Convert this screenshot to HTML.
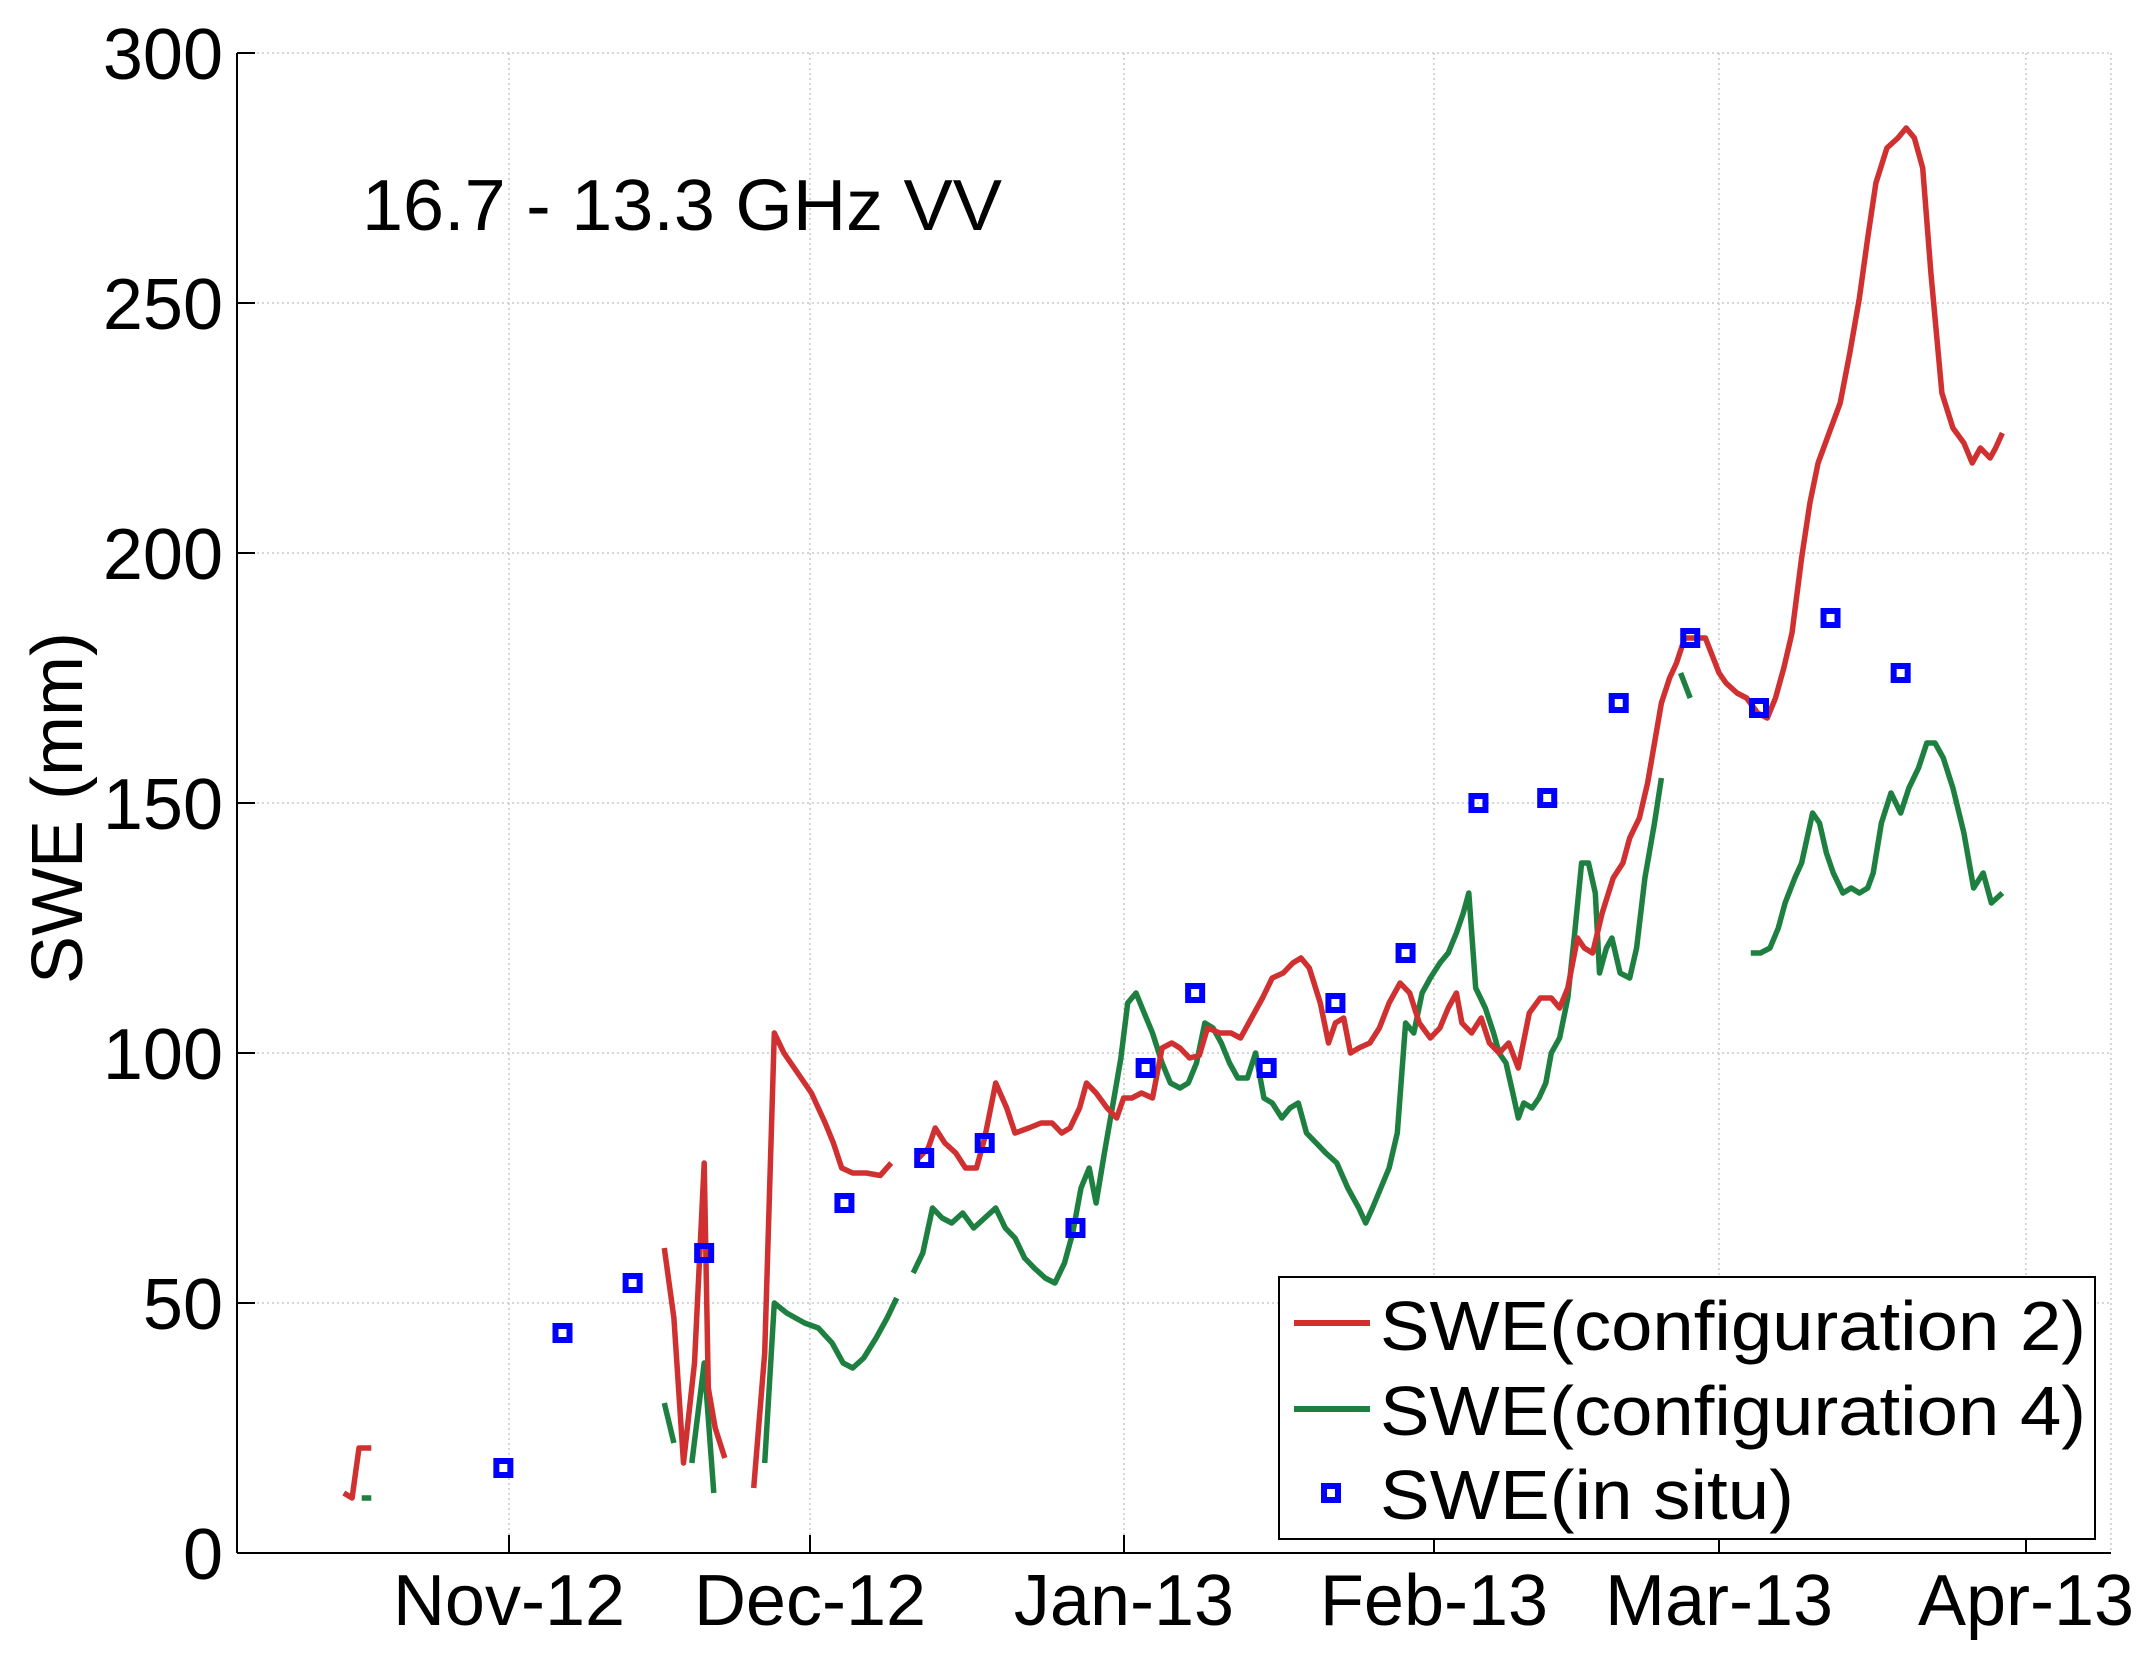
<!DOCTYPE html>
<html><head><meta charset="utf-8">
<style>
html,body{margin:0;padding:0;background:#fff;}
svg{display:block;}
text{font-family:"Liberation Sans",Arial,sans-serif;fill:#000;}
</style></head>
<body>
<svg id="c" xmlns="http://www.w3.org/2000/svg" width="2155" height="1655" viewBox="0 0 2155 1655">
<rect width="2155" height="1655" fill="#fff"/>
<g id="grid" stroke="#c8c8c8" stroke-width="1.5" stroke-dasharray="2,3"></g>
<g id="axes" stroke="#000" stroke-width="2"></g>
<g id="labels" font-size="72"></g>
<text x="362" y="230" font-size="72" textLength="640" lengthAdjust="spacingAndGlyphs">16.7 - 13.3 GHz VV</text>
<text transform="translate(82,808) rotate(-90)" font-size="72" text-anchor="middle">SWE (mm)</text>
<g id="series" fill="none" stroke-width="5.5" stroke-linejoin="round"></g>
<g id="pts" fill="none" stroke="#0000ff" stroke-width="6"></g>
<g id="legend">
<rect x="1279" y="1277" width="816" height="262" fill="#fff" stroke="#000" stroke-width="2"/>
<line x1="1294" y1="1323" x2="1370" y2="1323" stroke="#d03030" stroke-width="6"/>
<line x1="1294" y1="1409" x2="1370" y2="1409" stroke="#1e8040" stroke-width="6"/>
<rect x="1324" y="1486" width="14" height="14" fill="none" stroke="#0000ff" stroke-width="6"/>
<text x="1380" y="1350" font-size="70" textLength="706" lengthAdjust="spacingAndGlyphs">SWE(configuration 2)</text>
<text x="1380" y="1435" font-size="70" textLength="706" lengthAdjust="spacingAndGlyphs">SWE(configuration 4)</text>
<text x="1380" y="1519" font-size="70" textLength="414" lengthAdjust="spacingAndGlyphs">SWE(in situ)</text>
</g>
</svg>
<script>
var NS="http://www.w3.org/2000/svg";
function el(p,t,a,txt){var e=document.createElementNS(NS,t);for(var k in a)e.setAttribute(k,a[k]);if(txt!==undefined)e.textContent=txt;document.getElementById(p).appendChild(e);return e;}
var L=237,R=2111,B=1553,T=53;
function X(xd){return xd*1.3753;}
function Y(v){return B-5*v;}
var months=[[509,"Nov-12"],[810,"Dec-12"],[1124,"Jan-13"],[1434,"Feb-13"],[1719,"Mar-13"],[2026,"Apr-13"]];
for(var v=50;v<=300;v+=50){el("grid","line",{x1:L,y1:Y(v),x2:R,y2:Y(v)});}
months.forEach(function(m){el("grid","line",{x1:m[0],y1:T,x2:m[0],y2:B});});
el("grid","line",{x1:R,y1:T,x2:R,y2:B});
el("axes","line",{x1:L,y1:T,x2:L,y2:B});
el("axes","line",{x1:L,y1:B,x2:R,y2:B});
for(var v=0;v<=300;v+=50){el("axes","line",{x1:L,y1:Y(v),x2:L+18,y2:Y(v)});el("labels","text",{x:223,y:Y(v)+26,"text-anchor":"end"},String(v));}
months.forEach(function(m){el("axes","line",{x1:m[0],y1:B,x2:m[0],y2:B-18});el("labels","text",{x:m[0],y:1625,"text-anchor":"middle"},m[1]);});
function path(pts,col){var d="";pts.forEach(function(p,i){d+=(i?"L":"M")+X(p[0]).toFixed(1)+","+Y(p[1]).toFixed(1);});el("series","path",{d:d,stroke:col});}
var red=[
[[250,12],[256,11],[261,21],[270,21]],
[[483,61],[490,47],[497,18],[505,38],[512,78],[515,33],[520,25],[527,19]],
[[548,13],[556,40],[563,104],[570,100],[580,96],[590,92],[600,86],[606,82],[612,77],[620,76],[630,76],[640,75.5],[648,78]],
[[668,79],[675,81],[680,85],[687,82],[695,80],[702,77],[710,77],[716,83],[724,94],[732,89],[738,84],[748,85],[757,86],[765,86],[772,84],[778,85],[785,89],[790,94],[797,92],[805,89],[812,87],[817,91],[823,91],[830,92],[838,91],[845,101],[852,102],[858,101],[865,99],[872,99.5],[878,105],[887,104],[895,104],[902,103],[910,107],[918,111],[925,115],[933,116],[940,118],[946,119],[952,117],[960,110],[966,102],[971,106],[977,107],[982,100],[988,101],[996,102],[1003,105],[1010,110],[1018,114],[1025,112],[1032,106],[1040,103],[1047,105],[1053,109],[1059,112],[1063,106],[1070,104],[1077,107],[1083,102],[1090,100],[1097,102],[1104,97],[1112,108],[1120,111],[1128,111],[1134,109],[1140,113],[1147,123],[1152,121],[1158,120],[1165,128],[1173,135],[1180,138],[1185,143],[1192,147],[1198,154],[1203,162],[1208,170],[1214,175],[1219,178],[1225,183],[1230,183],[1240,183],[1250,176],[1255,174],[1263,172],[1270,171],[1278,168],[1285,167],[1291,171],[1297,177],[1303,184],[1310,199],[1316,210],[1322,218],[1330,224],[1338,230],[1345,240],[1352,251],[1358,263],[1364,274],[1372,281],[1380,283],[1386,285],[1392,283],[1398,277],[1404,256],[1412,232],[1420,225],[1428,222],[1434,218],[1440,221],[1447,219],[1451,221],[1456,224]]
];
var green=[
[[263,11],[270,11]],
[[483,30],[490,22]],
[[503,18],[512,38],[519,12]],
[[556,18],[563,50],[572,48],[585,46],[595,45],[605,42],[613,38],[620,37],[628,39],[637,43],[645,47],[652,51]],
[[664,56],[671,60],[678,69],[685,67],[692,66],[700,68],[708,65],[716,67],[724,69],[731,65],[738,63],[745,59],[752,57],[760,55],[767,54],[774,58],[780,64],[786,73],[792,77],[797,70],[803,80],[810,91],[815,99],[820,110],[826,112],[832,108],[838,104],[845,98],[851,94],[858,93],[864,94],[870,98],[876,106],[882,105],[888,102],[894,98],[900,95],[907,95],[913,100],[919,91],[925,90],[932,87],[938,89],[944,90],[950,84],[957,82],[964,80],[972,78],[980,73],[988,69],[993,66],[998,69],[1004,73],[1010,77],[1016,84],[1022,106],[1028,104],[1034,112],[1040,115],[1047,118],[1053,120],[1059,124],[1064,128],[1068,132],[1073,113],[1080,109],[1086,104],[1090,100],[1095,98],[1100,92],[1104,87],[1108,90],[1114,89],[1119,91],[1124,94],[1128,100],[1134,103],[1140,111],[1145,124],[1150,138],[1155,138],[1160,132],[1163,116],[1168,121],[1172,123],[1178,116],[1185,115],[1190,121],[1196,135],[1203,146],[1208,155]],
[[1222,176],[1229,171]],
[[1273,120],[1280,120],[1287,121],[1293,125],[1298,130],[1305,135],[1310,138],[1318,148],[1323,146],[1328,140],[1333,136],[1340,132],[1346,133],[1352,132],[1358,133],[1362,136],[1368,146],[1375,152],[1382,148],[1388,153],[1395,157],[1401,162],[1407,162],[1413,159],[1420,153],[1428,144],[1435,133],[1442,136],[1448,130],[1456,132]]
];
green.forEach(function(s){path(s,"#1e8040");});
red.forEach(function(s){path(s,"#d03030");});
var ins=[[366,17],[409,44],[460,54],[512,60],[614,70],[672,79],[716,82],[782,65],[833,97],[869,112],[921,97],[971,110],[1022,120],[1075,150],[1125,151],[1177,170],[1229,183],[1279,169],[1331,187],[1382,176]];
ins.forEach(function(p){el("pts","rect",{x:X(p[0])-7,y:Y(p[1])-7,width:14,height:14});});
</script>
</body></html>
